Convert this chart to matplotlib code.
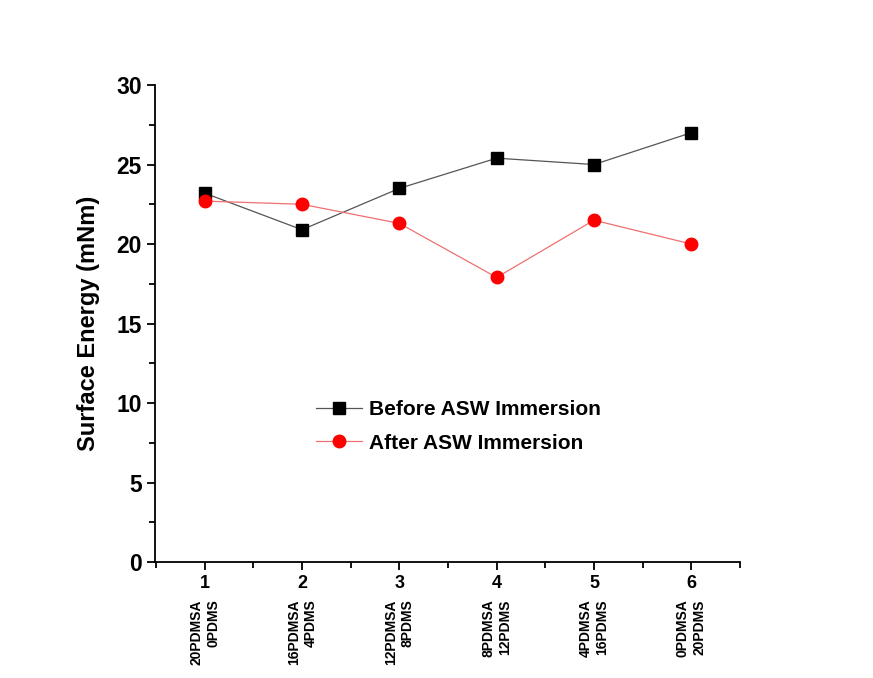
import matplotlib.pyplot as plt
from matplotlib.ticker import MultipleLocator

plt.rcParams['font.family'] = ['Liberation Sans', 'DejaVu Sans']
plt.rcParams['font.weight'] = 'bold'

# sample numbers and compositions
samples = [1, 2, 3, 4, 5, 6]
compositions = ['20PDMSA\n0PDMS', '16PDMSA\n4PDMS', '12PDMSA\n8PDMS',
                '8PDMSA\n12PDMS', '4PDMSA\n16PDMS', '0PDMSA\n20PDMS']
before_asw = [23.2, 20.9, 23.5, 25.4, 25.0, 27.0]
after_asw = [22.7, 22.5, 21.3, 17.9, 21.5, 20.0]

fig = plt.figure(figsize=(8.73, 6.78), dpi=100)
ax = fig.add_axes([0.1776, 0.171, 0.67, 0.7036])

ax.plot(samples, before_asw, color='#555555', lw=0.9, marker='s', ms=8,
        mfc='black', mec='black', label='Before ASW Immersion')
ax.plot(samples, after_asw, color='#f07070', lw=0.9, marker='o', ms=9,
        mfc='red', mec='red', label='After ASW Immersion')

ax.set_xlim(0.49, 6.5)
ax.set_ylim(0, 30)
ax.xaxis.set_major_locator(MultipleLocator(1))
ax.xaxis.set_minor_locator(MultipleLocator(0.5))
ax.yaxis.set_major_locator(MultipleLocator(5))
ax.yaxis.set_minor_locator(MultipleLocator(2.5))

for side in ['top', 'right']:
    ax.spines[side].set_visible(False)
for side in ['left', 'bottom']:
    ax.spines[side].set_linewidth(1.3)

ax.tick_params(which='major', direction='out', length=6, width=1.3)
ax.tick_params(which='minor', direction='out', length=4, width=1.3)
ax.tick_params(axis='x', labelsize=13)
ax.tick_params(axis='y', labelsize=16.5)
for lbl in ax.get_xticklabels() + ax.get_yticklabels():
    lbl.set_fontweight('bold')

ax.set_ylabel('Surface Energy (mNm)', fontsize=17, fontweight='bold', labelpad=12)

# composition labels under each sample number
for x, txt in zip(samples, compositions):
    ax.text(x, -0.078, txt, transform=ax.get_xaxis_transform(), rotation=90,
            ha='center', va='top', multialignment='right', fontsize=10,
            fontweight='bold', linespacing=1.25)

ax.legend(loc='upper left', bbox_to_anchor=(0.243, 0.378), frameon=False,
          handlelength=2.2, handletextpad=0.35, labelspacing=0.68,
          prop={'weight': 'bold', 'size': 15})

fig.savefig('out.png', dpi=100)
